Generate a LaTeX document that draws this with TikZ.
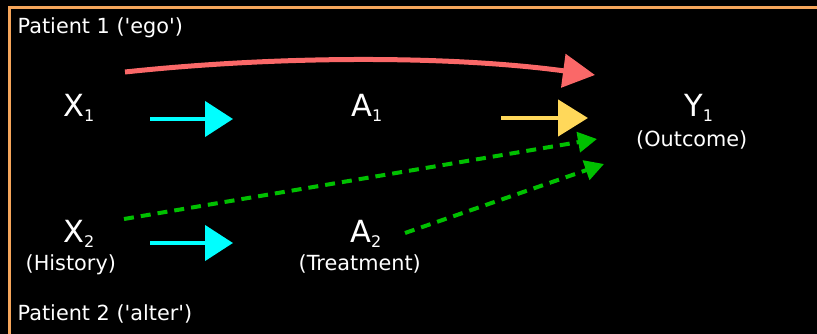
\documentclass[tikz,border=0pt]{standalone}
\usepackage{fontspec}
\setmainfont{DejaVu Sans}
\usetikzlibrary{arrows.meta}
\definecolor{frameorange}{RGB}{245,165,90}
\definecolor{redarr}{RGB}{250,104,104}
\definecolor{cyanarr}{RGB}{0,255,255}
\definecolor{yelarr}{RGB}{255,216,90}
\definecolor{grnarr}{RGB}{0,192,0}
\newcommand\sbs[1]{\raisebox{-5pt}{\fontsize{16}{16}\selectfont #1}}
\newcommand\sq{\textquotesingle}
\tikzset{
  lbl/.style={text=white, inner sep=0pt, anchor=base west, font=\fontsize{20.8}{24}\selectfont},
  var/.style={text=white, inner sep=0pt, anchor=base west, font=\fontsize{30.5}{34}\selectfont},
  cyanarrow/.style={draw=cyanarr, line width=4.3pt, -{Triangle[length=28pt,width=35pt]}},
  yelarrow/.style={draw=yelarr, line width=4.5pt, -{Triangle[length=30pt,width=36pt]}},
  redarrow/.style={draw=redarr, line width=5pt, -{Triangle[length=32pt,width=33pt]}},
  grnarrow/.style={draw=grnarr, line width=4pt, dash pattern=on 10pt off 7pt, -{Triangle[length=19pt,width=20pt]}},
}
\begin{document}
\begin{tikzpicture}[x=1pt,y=-1pt]
\useasboundingbox (0,0) rectangle (817,334);
\clip (0,0) rectangle (817,334);
\fill[black] (0,0) rectangle (817,334);
\draw[frameorange, line width=3pt] (9,7.5) rectangle (822,335.5);

\node[lbl] (p1) at (17.5,34) {Patient 1 (\sq ego\sq)};
\node[lbl] (p2) at (17.5,320.5) {Patient 2 (\sq alter\sq)};

\node[var] (x1) at (63,117) {X\sbs{1}};
\node[var] (a1) at (351,117) {A\sbs{1}};
\node[var] (y1) at (684,117) {Y\sbs{1}};
\node[lbl] (y1t) at (636,146.5) {(Outcome)};
\node[var] (x2) at (63,242) {X\sbs{2}};
\node[lbl] (x2t) at (25.5,270.5) {(History)};
\node[var] (a2) at (350,242) {A\sbs{2}};
\node[lbl] (a2t) at (298.5,270.5) {(Treatment)};

\coordinate (r0) at (125,72);
\coordinate (r1) at (595,75);
\coordinate (c1s) at (150,119);
\coordinate (c1e) at (233,119);
\coordinate (c2s) at (150,243);
\coordinate (c2e) at (233,243);
\coordinate (ys) at (501,118);
\coordinate (ye) at (588,118);
\coordinate (g1s) at (124,219);
\coordinate (g1e) at (597,139);
\coordinate (g2s) at (405,233);
\coordinate (g2e) at (604,164);

\draw[redarrow] (r0) .. controls (275,56) and (445,55) .. (r1);
\draw[cyanarrow] (c1s) -- (c1e);
\draw[cyanarrow] (c2s) -- (c2e);
\draw[yelarrow] (ys) -- (ye);
\draw[grnarrow] (g1s) -- (g1e);
\draw[grnarrow] (g2s) -- (g2e);
\end{tikzpicture}
\end{document}
